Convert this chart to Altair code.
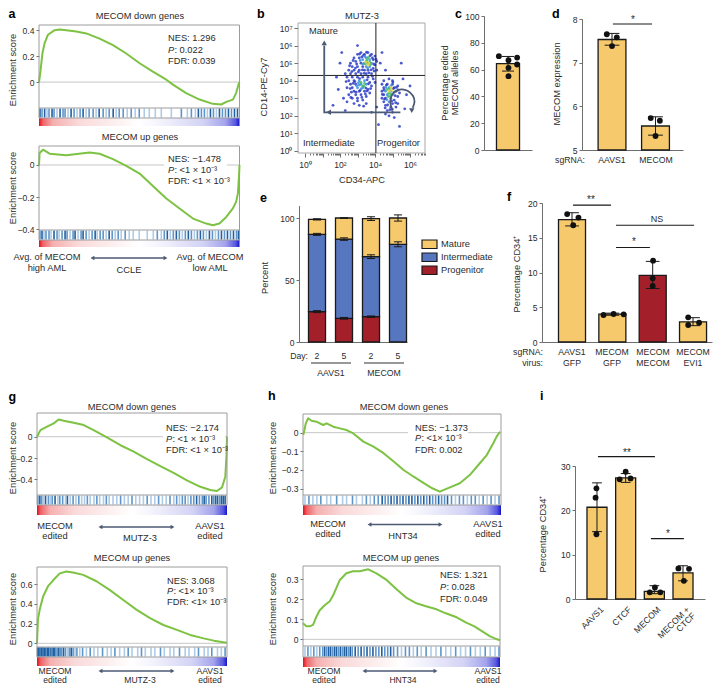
import math
import altair as alt
import pandas as pd

# ============================ DATA ============================
a_dn_x = [0, 0.007, 0.017, 0.028, 0.045, 0.078, 0.103, 0.136, 0.186, 0.236, 0.302, 0.369, 0.435, 0.502, 0.568, 0.635, 0.668, 0.734, 0.801, 0.867, 0.909, 0.934, 0.967, 0.983, 0.997, 1.0]
a_dn_y = [0, 0.08, 0.22, 0.30, 0.365, 0.40, 0.405, 0.40, 0.39, 0.375, 0.335, 0.285, 0.22, 0.145, 0.08, 0.018, -0.02, -0.085, -0.135, -0.168, -0.173, -0.153, -0.135, -0.085, -0.01, 0.0]
a_up_x = [0, 0.003, 0.02, 0.053, 0.136, 0.2, 0.252, 0.302, 0.369, 0.435, 0.502, 0.568, 0.635, 0.701, 0.768, 0.834, 0.867, 0.9, 0.934, 0.967, 0.983, 0.992, 0.998, 1.0]
a_up_y = [0.0, 0.075, 0.095, 0.07, 0.06, 0.07, 0.077, 0.07, 0.036, -0.005, -0.053, -0.13, -0.208, -0.27, -0.333, -0.364, -0.375, -0.364, -0.323, -0.27, -0.229, -0.177, -0.06, 0.0]
g_dn_x = [0, 0.018, 0.053, 0.088, 0.114, 0.14, 0.193, 0.246, 0.298, 0.368, 0.439, 0.509, 0.579, 0.649, 0.719, 0.789, 0.86, 0.912, 0.947, 0.974, 0.991, 0.997, 1.0]
g_dn_y = [0, 0.062, 0.094, 0.125, 0.162, 0.15, 0.131, 0.109, 0.062, -0.006, -0.08, -0.14, -0.21, -0.275, -0.34, -0.41, -0.47, -0.5, -0.51, -0.475, -0.375, -0.19, 0.0]
g_up_x = [0, 0.005, 0.014, 0.032, 0.058, 0.085, 0.12, 0.155, 0.19, 0.243, 0.313, 0.384, 0.454, 0.525, 0.595, 0.665, 0.736, 0.806, 0.877, 0.93, 0.982, 1.0]
g_up_y = [0, 0.24, 0.34, 0.475, 0.58, 0.64, 0.71, 0.73, 0.72, 0.695, 0.63, 0.54, 0.44, 0.34, 0.255, 0.186, 0.136, 0.085, 0.05, 0.027, 0.01, 0.006]
h_dn_x = [0, 0.003, 0.014, 0.026, 0.043, 0.068, 0.102, 0.119, 0.153, 0.186, 0.22, 0.254, 0.305, 0.356, 0.407, 0.458, 0.508, 0.559, 0.61, 0.653, 0.691, 0.742, 0.792, 0.842, 0.893, 0.928, 0.961, 0.978, 0.995]
h_dn_y = [0, -0.007, 0.05, 0.077, 0.064, 0.059, 0.041, 0.05, 0.032, 0.023, 0.014, -0.004, -0.048, -0.075, -0.11, -0.155, -0.2, -0.236, -0.27, -0.298, -0.316, -0.293, -0.271, -0.227, -0.164, -0.12, -0.057, -0.021, 0.005]
h_up_x = [0, 0.017, 0.034, 0.051, 0.068, 0.085, 0.11, 0.136, 0.153, 0.186, 0.22, 0.254, 0.288, 0.331, 0.373, 0.424, 0.475, 0.526, 0.576, 0.624, 0.678, 0.725, 0.78, 0.826, 0.87, 0.91, 0.95, 0.985, 1.0]
h_up_y = [0.08, 0.065, 0.065, 0.072, 0.113, 0.145, 0.17, 0.19, 0.22, 0.295, 0.33, 0.34, 0.34, 0.35, 0.33, 0.297, 0.25, 0.207, 0.18, 0.165, 0.15, 0.13, 0.11, 0.085, 0.065, 0.04, 0.015, 0.0, -0.005]

bc_a_dn_pos = [0.5, 1.5, 2.8, 4, 5, 6.5, 7.5, 9, 10.5, 12, 13, 14.5, 16, 17.5, 19, 20.5, 22, 23.5, 25, 27, 28.5, 30, 32, 33.5, 35, 37, 38.5, 40, 42, 44, 46, 48, 50, 52.5, 55, 58, 61, 66, 71, 74, 76, 78, 79.5, 81, 82.5, 84, 85.5, 87, 88.5, 90, 91.5, 93, 94.5, 96, 97.5, 99]
bc_a_dn_shade = [3, 2, 3, 1, 2, 3, 2, 1, 3, 2, 2, 1, 3, 2, 1, 2, 3, 1, 2, 2, 1, 3, 2, 1, 2, 3, 1, 2, 2, 1, 2, 1, 2, 1, 1, 1, 1, 1, 2, 1, 2, 1, 3, 2, 2, 1, 3, 2, 1, 3, 2, 2, 3, 2, 3, 3]
bc_a_up_pos = [0.5, 1.5, 2.5, 3.5, 5, 6, 7.5, 9, 10, 11.5, 13, 14, 15.5, 17, 18, 19.5, 21, 22, 23.5, 25, 26.5, 28, 29, 30.5, 32, 33.5, 35, 36.5, 38, 39.5, 41, 43, 45, 47, 50, 54, 57, 59, 61, 62.5, 64, 65.5, 67, 68.5, 70, 71.5, 73, 74.5, 76, 77.5, 79, 80.5, 82, 83.5, 85, 86.5, 88, 89.5, 91, 92.5, 94, 95.5, 97, 98.5, 99.5]
bc_a_up_shade = [2, 3, 1, 2, 2, 1, 3, 2, 1, 2, 3, 2, 1, 2, 3, 1, 2, 3, 2, 1, 2, 3, 1, 2, 2, 1, 3, 2, 1, 2, 1, 2, 1, 1, 1, 1, 1, 2, 1, 2, 3, 1, 2, 3, 2, 1, 2, 3, 2, 1, 2, 3, 2, 1, 3, 2, 1, 2, 3, 2, 3, 2, 3, 2, 3]
bc_g_dn_pos = [0.5, 1.5, 2.5, 3.5, 4.5, 6, 7, 8, 9.5, 11, 12, 13.5, 15, 16, 17.5, 19, 20.5, 22, 23.5, 25, 26.5, 28, 30, 31.5, 33, 35, 36.5, 38, 40, 42, 44, 46, 48, 50, 52, 54, 56, 58, 60, 62, 64, 66, 68, 70, 72, 73.5, 75, 76.5, 78, 79.5, 81, 82.5, 84, 85.5, 87, 88, 89, 90.5, 92, 93, 94, 95, 96, 97, 98, 99]
bc_g_dn_shade = [2, 3, 2, 1, 3, 2, 1, 2, 3, 1, 2, 2, 1, 3, 1, 2, 1, 2, 1, 1, 2, 1, 1, 2, 1, 1, 2, 1, 1, 1, 2, 1, 1, 2, 1, 1, 1, 2, 1, 1, 2, 1, 1, 2, 1, 2, 1, 2, 2, 1, 2, 2, 3, 2, 2, 3, 2, 2, 3, 2, 3, 3, 2, 3, 3, 3]
bc_g_up_pos = [0.3, 0.8, 1.3, 1.8, 2.3, 2.8, 3.3, 3.8, 4.3, 5, 5.6, 6.2, 6.8, 7.4, 8, 8.7, 9.4, 10, 10.8, 11.5, 12.3, 13, 14, 15, 16, 17, 18, 19, 20, 21, 22.5, 24, 26, 28, 30, 32, 34.5, 37, 39, 41, 43.5, 46, 48, 50, 53, 55, 57, 60, 62, 65, 67, 70, 72, 75, 78, 80, 83, 85, 88, 90, 92, 95, 97, 99]
bc_g_up_shade = [3, 3, 3, 2, 3, 3, 2, 3, 3, 2, 3, 3, 2, 3, 2, 3, 3, 2, 2, 3, 2, 2, 3, 2, 1, 2, 3, 2, 1, 2, 1, 2, 1, 2, 1, 1, 2, 1, 1, 2, 1, 1, 2, 1, 1, 2, 1, 1, 1, 2, 1, 1, 1, 2, 1, 1, 1, 2, 1, 1, 2, 1, 1, 2]
bc_h_dn_pos = [1, 3, 5, 7, 9, 12, 14, 17, 20, 22, 25, 27, 30, 32, 34, 36, 38, 40, 41.5, 43, 44.5, 46, 47.5, 49, 50.5, 52, 53.5, 55, 56.5, 58, 59.5, 61, 62.5, 64, 65.5, 67, 68.5, 70, 71.5, 73, 75, 77, 79, 81, 83, 85, 87, 89, 91, 93, 95, 97, 99]
bc_h_dn_shade = [1, 2, 1, 1, 2, 1, 1, 2, 1, 1, 2, 1, 1, 2, 1, 2, 2, 3, 2, 2, 3, 2, 3, 2, 3, 2, 3, 3, 2, 3, 2, 3, 2, 3, 2, 2, 3, 2, 2, 3, 2, 1, 2, 2, 1, 2, 2, 1, 2, 1, 2, 1, 2]
bc_h_up_pos = [1, 2.5, 4, 5.5, 7, 8.5, 10, 11, 12, 13, 14, 15, 16, 17, 18, 19, 20, 21, 22, 23, 24, 25, 26.5, 28, 29.5, 31, 32.5, 34, 35.5, 37, 38.5, 40, 41.5, 43, 44.5, 46, 48, 50, 52, 54, 56, 58, 60, 62.5, 65, 67.5, 70, 72.5, 75, 77.5, 80, 82.5, 85, 87.5, 90, 92.5, 95, 97.5, 99.5]
bc_h_up_shade = [1, 2, 1, 2, 1, 2, 2, 3, 2, 3, 3, 2, 3, 3, 2, 3, 2, 3, 3, 2, 3, 2, 3, 2, 3, 2, 3, 2, 3, 2, 2, 3, 2, 2, 3, 2, 2, 1, 2, 2, 1, 2, 1, 2, 1, 1, 2, 1, 1, 2, 1, 1, 2, 1, 1, 2, 1, 1, 2]

flow_upper = [(3.0, 5.5, 0), (3.2, 5.6, 0), (3.4, 5.5, 0), (3.6, 5.6, 0), (3.8, 5.5, 0), (4.0, 5.4, 0), (2.8, 5.3, 0), (3.1, 5.3, 0), (3.3, 5.2, 1), (3.5, 5.3, 1), (3.7, 5.2, 1), (3.9, 5.2, 0), (4.1, 5.1, 0), (2.6, 5.0, 0), (2.9, 5.1, 0), (3.2, 5.0, 0), (3.4, 5.0, 1), (3.6, 5.0, 1), (3.8, 5.0, 1), (4.0, 4.9, 0), (2.7, 4.8, 0), (3.0, 4.8, 0), (3.3, 4.8, 0), (3.5, 4.8, 1), (3.7, 4.8, 1), (3.9, 4.7, 0), (2.5, 4.6, 0), (2.8, 4.6, 0), (3.1, 4.6, 0), (3.4, 4.6, 0), (3.6, 4.6, 0), (4.1, 4.6, 0), (2.3, 4.4, 0), (2.6, 4.4, 0), (2.9, 4.4, 0), (3.2, 4.4, 0), (3.5, 4.4, 0), (3.8, 4.4, 0),
              (3.5, 5.1, 2), (3.6, 4.9, 3), (3.7, 5.05, 2), (3.45, 4.95, 2), (3.55, 5.2, 2), (3.65, 5.0, 3),
              (2.95, 4.95, 0), (3.25, 5.35, 0), (3.85, 5.3, 0), (3.05, 4.5, 0), (3.65, 4.45, 0), (3.35, 5.45, 0), (2.75, 5.15, 0), (3.95, 4.55, 0),
              (3.15, 5.15, 1), (3.42, 5.38, 1), (3.72, 5.42, 0), (3.58, 4.72, 1), (3.28, 4.62, 0), (2.88, 4.72, 0), (3.92, 4.95, 0), (3.12, 5.52, 0), (3.52, 5.62, 0), (3.78, 4.62, 0), (2.68, 4.52, 0), (3.38, 4.42, 0), (4.05, 5.22, 0), (2.55, 4.85, 0), (3.62, 5.32, 2), (3.48, 5.05, 3), (3.75, 4.92, 2), (3.3, 4.95, 1)]
flow_lower = [(2.4, 4.2, 0), (2.7, 4.2, 0), (3.0, 4.2, 0), (3.3, 4.2, 0), (3.6, 4.2, 0), (3.9, 4.1, 0), (2.5, 4.0, 0), (2.8, 4.0, 0), (3.1, 4.0, 1), (3.4, 4.0, 1), (3.7, 3.9, 0), (4.0, 3.9, 0), (2.6, 3.8, 0), (2.9, 3.8, 0), (3.2, 3.8, 1), (3.5, 3.8, 1), (3.8, 3.7, 0), (2.4, 3.6, 0), (2.7, 3.6, 0), (3.0, 3.6, 1), (3.3, 3.6, 1), (3.6, 3.5, 0), (2.8, 3.4, 0), (3.1, 3.4, 0), (3.4, 3.4, 0), (3.7, 3.3, 0), (2.5, 3.2, 0), (2.9, 3.2, 0), (3.2, 3.2, 0), (3.5, 3.1, 0), (2.7, 3.0, 0), (3.0, 3.0, 0), (3.3, 2.9, 0), (2.8, 2.7, 0), (3.1, 2.6, 0), (3.5, 2.7, 0), (2.4, 2.8, 0),
              (3.2, 3.9, 2), (3.3, 3.7, 2), (3.1, 3.75, 1), (3.4, 3.85, 2),
              (2.85, 3.95, 0), (3.55, 4.05, 0), (3.15, 3.45, 0), (2.65, 3.35, 0), (3.45, 3.25, 0),
              (2.95, 3.72, 1), (3.22, 3.55, 1), (3.38, 3.68, 2), (3.05, 3.88, 1), (2.75, 3.85, 0), (3.48, 3.58, 0), (3.62, 3.82, 0), (2.58, 3.55, 0), (2.92, 3.35, 0), (3.25, 3.05, 0), (3.55, 3.42, 0), (2.62, 3.05, 0), (3.0, 2.85, 0), (3.35, 2.55, 0), (3.75, 3.55, 0), (2.35, 3.95, 0), (3.85, 4.25, 0), (3.12, 4.12, 0)]
flow_prog = [(4.5, 4.0, 0), (4.8, 4.1, 0), (5.0, 4.0, 0), (4.4, 3.8, 0), (4.7, 3.8, 0), (5.0, 3.8, 0), (5.3, 3.7, 0), (4.5, 3.6, 0), (4.8, 3.6, 1), (5.1, 3.6, 0), (4.4, 3.4, 0), (4.6, 3.4, 1), (4.9, 3.4, 1), (5.2, 3.4, 0), (5.4, 3.3, 0), (4.5, 3.2, 0), (4.7, 3.2, 1), (5.0, 3.2, 1), (5.3, 3.1, 0), (4.4, 3.0, 0), (4.6, 3.0, 0), (4.9, 3.0, 1), (5.1, 2.9, 0), (4.5, 2.8, 0), (4.8, 2.8, 1), (5.0, 2.7, 0), (5.3, 2.7, 0), (4.6, 2.6, 0), (4.9, 2.5, 0), (5.2, 2.5, 0), (4.7, 2.3, 0), (5.0, 2.2, 0), (4.8, 2.0, 0), (5.1, 1.9, 0), (4.6, 2.1, 0),
             (4.8, 3.4, 3), (4.9, 3.25, 2), (4.85, 3.55, 2), (4.75, 3.1, 2), (4.95, 3.45, 3), (4.7, 3.5, 2),
             (4.65, 3.75, 0), (5.15, 3.15, 0), (4.55, 2.95, 0), (4.95, 2.85, 0), (5.05, 3.55, 0), (4.85, 2.35, 0),
             (4.62, 3.62, 1), (4.92, 3.72, 1), (4.78, 3.28, 2), (5.08, 3.35, 1), (4.68, 2.92, 1), (4.88, 3.12, 2), (5.22, 3.62, 0), (4.52, 3.48, 0), (5.18, 2.75, 0), (4.72, 2.62, 0), (4.98, 2.38, 0), (4.42, 3.22, 0), (5.32, 3.48, 0), (4.58, 2.45, 0), (5.02, 3.92, 0), (4.92, 3.6, 3)]
flow_sparse = [(1.8, 4.2, 0), (2.0, 5.0, 0), (1.9, 3.5, 0), (2.2, 3.0, 0), (2.1, 5.6, 0), (4.3, 5.0, 0), (4.6, 4.6, 0), (5.6, 4.1, 0), (5.8, 3.2, 0), (4.2, 1.5, 0), (5.4, 1.4, 0), (3.8, 2.2, 0), (2.3, 2.3, 0), (5.7, 2.4, 0), (4.1, 2.5, 0), (1.6, 2.6, 0), (3.0, 6.0, 0), (4.4, 5.6, 0), (5.5, 5.0, 0), (6.0, 3.7, 0)]
gate_x = 4.05
gate_y = 4.3
arc_x = [5.0, 4.85, 4.9, 5.1, 5.5, 5.9, 6.2, 6.3, 6.15]
arc_y = [2.3, 2.7, 3.1, 3.4, 3.55, 3.45, 3.15, 2.8, 2.45]

c_val = [64.5]
c_lo = [58.9]
c_hi = [69.8]
c_pts = [70.0, 67.0, 69.0, 63.8, 61.3, 55.1]
c_jit = [-0.38, 0.02, 0.38, 0.38, 0.02, 0.02]
c_ticks = [0, 20, 40, 60, 80, 100]

d_cats = ["AAVS1", "MECOM"]
d_val = [7.53, 5.55]
d_lo = [7.40, 5.34]
d_hi = [7.67, 5.76]
d_pts = [[7.65, 7.58, 7.38], [5.73, 5.67, 5.32]]
d_jit = [[-0.12, 0.11, 0.0], [-0.11, 0.1, 0.0]]

e_group = ["AAVS1", "MECOM"]
e_day = ["2", "5", "2", "5"]
e_prog = [24.5, 19.1, 20.4, 0.0]
e_inter = [62.3, 63.9, 48.4, 78.8]
e_mat = [12.1, 17.0, 30.7, 21.2]
e_err_prog = [0.8, 0.7, 0.6, 0.0]
e_err_inter = [0.8, 1.0, 1.5, 2.0]
e_err_mat = [0.5, 0.3, 1.5, 2.5]

f_sg = ["AAVS1", "MECOM", "MECOM", "MECOM"]
f_virus = ["GFP", "GFP", "MECOM", "EVI1"]
f_val = [17.6, 4.0, 9.6, 2.9]
f_lo = [16.7, 3.85, 7.7, 2.35]
f_hi = [18.6, 4.15, 11.6, 3.5]
f_pts = [[18.4, 17.9, 16.8], [3.88, 4.03, 3.98], [11.7, 9.16, 8.06], [3.55, 2.45, 2.78]]
f_jit = [[-0.12, 0.16, 0.03], [-0.22, 0.03, 0.28], [0.01, 0.0, 0.0], [-0.12, -0.12, 0.15]]

i_cats = ["AAVS1", "CTCF", "MECOM", "MECOM +\nCTCF"]
i_val = [20.7, 27.3, 1.7, 5.9]
i_lo = [15.2, 26.3, 1.2, 4.1]
i_hi = [26.2, 28.3, 3.0, 7.5]
i_pts = [[24.97, 22.85, 14.6], [27.0, 28.7, 27.2], [1.5, 2.6, 1.5], [6.9, 6.8, 4.1]]
i_jit = [[-0.02, -0.05, -0.02], [-0.21, 0.0, 0.17], [-0.16, 0.02, 0.21], [-0.16, 0.21, 0.03]]

# ============================ STYLE / LAYOUT ============================
W, H, M = 705, 675, 8
FONT = "Liberation Sans"
INK = "#2b2b2b"
AXC = "#6e6e6e"
YEL, RED, BLU = "#f5c96c", "#a3202b", "#5676bf"
GRN, ARW = "#7dc242", "#4c5a74"
SHADES = ["#aecbe7", "#5f95c9", "#215f9f"]
DENS = ["#2b3cc4", "#3b8fdc", "#3fb96a", "#e4d53a"]
FS = 9.3

layers = []
ann = []
late = []


def add(ch):
    layers.append(ch)


def sx(p0, p1, d0, d1):
    return alt.Scale(domain=[d0, d1], range=[p0 - M, p1 - M], nice=False, zero=False)


def sy(pb, pt, d0, d1):
    return alt.Scale(domain=[d0, d1], range=[pb - M, pt - M], nice=False, zero=False)


IX = sx(M, M + W, M, M + W)
IY = sy(M, M + H, M, M + H)


def X(f, s, axis=None):
    return alt.X(f"{f}:Q", scale=s, axis=axis)


def Y(f, s, axis=None):
    return alt.Y(f"{f}:Q", scale=s, axis=axis)


def left_axis(px, values, domain=True, **kw):
    d = dict(orient="left", offset=-(px - M), values=values, title=None, grid=False, tickSize=3,
             labelPadding=2, labelFontSize=8.6, domain=domain, labelFlush=False, labelOverlap=False)
    d.update(kw)
    return alt.Axis(**d)


def bottom_axis(py, **kw):
    d = dict(orient="bottom", offset=(py - M) - H, title=None, grid=False, labels=False, ticks=False,
             domain=True, labelFlush=False, labelOverlap=False)
    d.update(kw)
    return alt.Axis(**d)


def T(x, y, s, size=FS, align="center", weight="normal", style="normal", angle=0, color=INK, baseline="middle"):
    ann.append(dict(x=x, y=y, t=s, size=size, align=align, weight=weight, style=style,
                    angle=angle, color=color, baseline=baseline))


def seg(x1, y1, x2, y2, color="#333333", width=1.2):
    df = pd.DataFrame({"x": [x1], "y": [y1], "xe": [x2], "ye": [y2]})
    add(alt.Chart(df).mark_rule(color=color, strokeWidth=width).encode(
        x=X("x", IX), y=Y("y", IY), x2=alt.X2("xe"), y2=alt.Y2("ye")))


def wbox(x1, y1, x2, y2):
    df = pd.DataFrame({"x": [x1], "y": [y1], "xe": [x2], "ye": [y2]})
    add(alt.Chart(df).mark_rect(color="white").encode(
        x=X("x", IX), x2=alt.X2("xe"), y=Y("y", IY), y2=alt.Y2("ye")))


def darrow(x1, x2, y):
    seg(x1 + 3, y, x2 - 3, y, ARW, 1.4)
    hd = pd.DataFrame({"x": [x1 + 2.5, x2 - 2.5], "y": [y, y], "s": ["triangle-left", "triangle-right"]})
    add(alt.Chart(hd).mark_point(filled=True, size=20, color=ARW, opacity=1).encode(
        x=X("x", IX), y=Y("y", IY), shape=alt.Shape("s:N", scale=None)))


def nes(x, ys, s_nes, s_p, s_fdr):
    T(x, ys[0], s_nes, align="left")
    T(x, ys[1], "P", align="left", style="italic")
    T(x + 6.4, ys[1], s_p, align="left")
    T(x, ys[2], s_fdr, align="left")


GRAD = alt.LinearGradient(
    gradient="linear", x1=0, x2=1, y1=0, y2=0,
    stops=[alt.GradientStop(offset=o, color=c) for o, c in [
        (0.0, "#e3101b"), (0.02, "#ee6468"), (0.07, "#f5b0b0"), (0.2, "#fadada"), (0.4, "#fdf2f2"),
        (0.5, "#ffffff"), (0.62, "#f1f1fc"), (0.82, "#d2d2f5"), (0.93, "#a3a3ec"), (0.98, "#5757df"), (1.0, "#1414cc")]])


def gsea(cx, cy, pos, shade, x0, x1, ytop, ycb, ybc, ygb, d0, d1, ticks, box=None):
    xs = sx(x0, x1, 0, 1)
    ys = sy(ycb, ytop, d0, d1)
    bs = sy(ybc, ycb, 0, 1)
    gs = sy(ygb, ybc, 0, 1)
    fs = sy(ybc, ytop, 0, 1)
    unit = pd.DataFrame({"a": [0.0], "b": [1.0], "z": [0.0]})
    add(alt.Chart(unit).mark_rect(fill=GRAD).encode(x=X("a", xs), x2=alt.X2("b"), y=Y("a", gs), y2=alt.Y2("b")))
    bc = pd.DataFrame({"x": [p / 100 for p, _ in zip(pos, shade)], "s": [s for _, s in zip(pos, shade)]})
    bc["lo"] = 0.04
    bc["hi"] = 0.96
    add(alt.Chart(bc).mark_rule(strokeWidth=1.6).encode(
        x=X("x", xs), y=Y("lo", bs), y2=alt.Y2("hi"),
        color=alt.Color("s:O", scale=alt.Scale(domain=[1, 2, 3], range=SHADES), legend=None)))
    add(alt.Chart(unit).mark_rule(color="#c6c6c6", strokeWidth=1).encode(
        x=X("a", xs), x2=alt.X2("b"), y=Y("z", ys, left_axis(x0, ticks, domain=False, format="~g"))))
    if box:
        wbox(*box)
    cur = pd.DataFrame({"x": cx, "y": cy})
    add(alt.Chart(cur).mark_line(color=GRN, strokeWidth=2, strokeJoin="round").encode(x=X("x", xs), y=Y("y", ys)))
    add(alt.Chart(unit).mark_rect(fill="white", fillOpacity=0, stroke="#9c9c9c", strokeWidth=1).encode(
        x=X("a", xs), x2=alt.X2("b"), y=Y("a", fs), y2=alt.Y2("b")))
    add(alt.Chart(unit).mark_rule(color="#9c9c9c", strokeWidth=1).encode(x=X("a", xs), x2=alt.X2("b"), y=Y("b", bs)))


def bar_panel(xs, ys, base, vals, fills, hw, lo, hi, cap, ptx, pty, ax_x, yvals, ax_y):
    n = len(vals)
    cen = [k + 1 for k in range(n)]
    ax = pd.DataFrame({"x": [cen[0]], "y": [base]})
    add(alt.Chart(ax).mark_point(opacity=0, size=1).encode(
        x=X("x", xs, bottom_axis(ax_y)), y=Y("y", ys, left_axis(ax_x, yvals))))
    df = pd.DataFrame({"l": [c - hw for c in cen], "r": [c + hw for c in cen], "v": vals,
                       "z": [base] * n, "f": fills})
    add(alt.Chart(df).mark_bar(stroke="#1a1a1a", strokeWidth=1.3).encode(
        x=X("l", xs), x2=alt.X2("r"), y=Y("v", ys), y2=alt.Y2("z"),
        color=alt.Color("f:N", scale=None)))
    e = pd.DataFrame({"c": cen, "lo": lo, "hi": hi, "cl": [c - cap for c in cen], "cr": [c + cap for c in cen]})
    add(alt.Chart(e).mark_rule(color="#1a1a1a", strokeWidth=1).encode(x=X("c", xs), y=Y("lo", ys), y2=alt.Y2("hi")))
    add(alt.Chart(e).mark_rule(color="#1a1a1a", strokeWidth=1).encode(x=X("cl", xs), x2=alt.X2("cr"), y=Y("lo", ys)))
    add(alt.Chart(e).mark_rule(color="#1a1a1a", strokeWidth=1).encode(x=X("cl", xs), x2=alt.X2("cr"), y=Y("hi", ys)))
    p = pd.DataFrame({"x": ptx, "y": pty})
    add(alt.Chart(p).mark_circle(size=34, color="#111111", opacity=1).encode(x=X("x", xs), y=Y("y", ys)))


def sig(xs, ys, xa, xb, yv):
    df = pd.DataFrame({"a": [xa], "b": [xb], "y": [yv]})
    add(alt.Chart(df).mark_rule(color="#1a1a1a", strokeWidth=1.2).encode(x=X("a", xs), x2=alt.X2("b"), y=Y("y", ys)))


LET = dict(size=12.5, align="left", weight="bold", color="#000000", baseline="top")

# ============================ PANEL a ============================
T(8.5, 8, "a", **LET)
T(140, 16, "MECOM down genes")
gsea(a_dn_x, a_dn_y, bc_a_dn_pos, bc_a_dn_shade, 39, 239.5, 25, 108, 118, 126, -0.2, 0.44, [0, 0.2, 0.4])
T(13, 70, "Enrichment score", angle=270)
nes(168, [38, 50, 61], "NES: 1.296", ": 0.022", "FDR: 0.039")
T(140, 137, "MECOM up genes")
gsea(a_up_x, a_up_y, bc_a_up_pos, bc_a_up_shade, 39, 239.5, 146, 230, 240, 247, -0.404, 0.118, [-0.4, -0.2, 0],
     box=(164, 152, 227, 188))
T(13, 188, "Enrichment score", angle=270)
nes(168, [159, 170, 181], "NES: \u22121.478", ": <1 \u00d7 10\u207b\u00b3", "FDR: <1 \u00d7 10\u207b\u00b3")
T(47, 257, "Avg. of MECOM")
T(47, 268, "high AML")
T(210, 257, "Avg. of MECOM")
T(210, 268, "low AML")
T(129, 270, "CCLE")
darrow(90, 168, 258)

# ============================ PANEL b ============================
T(257, 8, "b", **LET)
T(362, 16, "MUTZ-3")
fx = sx(298, 425, -0.4, 6.857)
fy = sy(153, 23, -0.114, 7.285)
SUP = "['\u2070','\u00b9','\u00b2','\u00b3','\u2074','\u2075','\u2076','\u2077']"
frame = pd.DataFrame({"x0": [-0.4], "x1": [6.857], "y0": [-0.114], "y1": [7.285]})
fl = pd.DataFrame([dict(x=a, y=b, d=c) for a, b, c in flow_sparse + flow_lower + flow_upper + flow_prog])
fl = fl.sort_values("d", kind="stable")
add(alt.Chart(fl).mark_circle(size=8, opacity=0.85).encode(
    x=X("x", fx), y=Y("y", fy),
    color=alt.Color("d:O", scale=alt.Scale(domain=[0, 1, 2, 3], range=DENS), legend=None)))
minor = [n + math.log10(k) for n in range(0, 7) for k in range(2, 10) if n + math.log10(k) < 6.85]
add(alt.Chart(frame).mark_rect(fill="white", fillOpacity=0, stroke="#a8a8a8", strokeWidth=1).encode(
    x=X("x0", fx, bottom_axis(153, labels=True, ticks=True, values=list(range(0, 7)), tickSize=4,
                               labelExpr="datum.value % 2 == 0 ? '10' + " + SUP + "[datum.value] : ''",
                               labelFontSize=8.6, labelPadding=3, domain=False)),
    x2=alt.X2("x1"),
    y=Y("y0", fy, left_axis(298, list(range(0, 8)), domain=False, tickSize=4,
                            labelExpr="'10' + " + SUP + "[datum.value]")),
    y2=alt.Y2("y1")))
gl = pd.DataFrame({"gx": [gate_x], "gy": [gate_y], "x0": [-0.4], "x1": [6.857], "y0": [-0.114], "y1": [7.285]})
add(alt.Chart(gl).mark_rule(color="#222222", strokeWidth=1).encode(
    x=X("gx", fx), y=Y("y0", fy), y2=alt.Y2("y1")))
add(alt.Chart(gl).mark_rule(color="#222222", strokeWidth=1).encode(
    x=X("x0", fx, bottom_axis(153, ticks=True, values=minor, tickSize=2, domain=False)), x2=alt.X2("x1"),
    y=Y("gy", fy)))
arm = pd.DataFrame({"x": [5.45, 1.1, 1.1], "y": [2.2, 2.2, 6.0], "i": [0, 1, 2]})
add(alt.Chart(arm).mark_line(color=ARW, strokeWidth=1.8).encode(x=X("x", fx), y=Y("y", fy), order="i:Q"))
arc = pd.DataFrame({"x": arc_x, "y": arc_y, "i": list(range(len(arc_x)))})
add(alt.Chart(arc).mark_line(color=ARW, strokeWidth=1.8, interpolate="basis").encode(
    x=X("x", fx), y=Y("y", fy), order="i:Q"))
heads = pd.DataFrame({"x": [1.1, 1.35, 6.1], "y": [6.15, 2.2, 2.3],
                      "s": ["triangle-up", "triangle-left", "triangle-down"]})
add(alt.Chart(heads).mark_point(filled=True, size=30, color=ARW, opacity=1).encode(
    x=X("x", fx), y=Y("y", fy), shape=alt.Shape("s:N", scale=None)))
T(309, 31, "Mature", align="left")
T(303, 143, "Intermediate", align="left")
T(377, 143, "Progenitor", align="left")
T(264, 87, "CD14-PE-Cy7", angle=270)
T(362, 180, "CD34-APC")

# ============================ PANEL c ============================
T(455, 8, "c", **LET)
cxs = sx(484, 532, 0, 2)
cys = sy(150, 16, 0, 100)
bar_panel(cxs, cys, 0, c_val, [YEL], 0.48, c_lo, c_hi, 0.25,
          [1 + j for j in c_jit], c_pts, 484, c_ticks, 150)
T(445, 83, "Percentage edited", angle=270)
T(455, 83, "MECOM alleles", angle=270)

# ============================ PANEL d ============================
T(552, 8, "d", **LET)
dxs = sx(582, 683, 0.31, 2.632)
dys = sy(150, 19, 5, 8)
bar_panel(dxs, dys, 5, d_val, [YEL, YEL], 0.32, d_lo, d_hi, 0.17,
          [k + 1 + j for k in range(2) for j in d_jit[k]], [v for row in d_pts for v in row],
          582, [5, 6, 7, 8], 150)
sig(dxs, dys, 1.02, 1.92, 7.885)
T(633, 20, "*", size=10)
T(557, 84, "MECOM expression", angle=270)
T(585, 160, "sgRNA:", align="right", size=8.7)
T(612, 160, d_cats[0], size=8.7)
T(656, 160, d_cats[1], size=8.7)

# ============================ PANEL e ============================
T(260, 192, "e", **LET)
exs = sx(299, 407, 0.333, 4.333)
eys = sy(342, 205.6, 0, 110)
rows, errs = [], []
for k in range(4):
    base = 0.0
    for name, hgt, err in (("Progenitor", e_prog[k], e_err_prog[k]), ("Intermediate", e_inter[k], e_err_inter[k]),
                           ("Mature", e_mat[k], e_err_mat[k])):
        if hgt > 0:
            rows.append(dict(l=k + 1 - 0.315, r=k + 1 + 0.315, lo=base, hi=base + hgt, seg=name))
            errs.append(dict(c=k + 1, cl=k + 1 - 0.15, cr=k + 1 + 0.15, a=base + hgt - err, b=base + hgt + err))
        base += hgt
SEGS = alt.Scale(domain=["Mature", "Intermediate", "Progenitor"], range=[YEL, BLU, RED])
add(alt.Chart(pd.DataFrame(rows)).mark_bar(stroke="#1a1a1a", strokeWidth=1.3).encode(
    x=X("l", exs, bottom_axis(342)), x2=alt.X2("r"),
    y=Y("lo", eys, left_axis(299, [0, 50, 100])), y2=alt.Y2("hi"),
    color=alt.Color("seg:N", scale=SEGS, legend=None)))
edf = pd.DataFrame(errs)
add(alt.Chart(edf).mark_rule(color="#1a1a1a", strokeWidth=1).encode(x=X("c", exs), y=Y("a", eys), y2=alt.Y2("b")))
add(alt.Chart(edf).mark_rule(color="#1a1a1a", strokeWidth=1).encode(x=X("cl", exs), x2=alt.X2("cr"), y=Y("a", eys)))
add(alt.Chart(edf).mark_rule(color="#1a1a1a", strokeWidth=1).encode(x=X("cl", exs), x2=alt.X2("cr"), y=Y("b", eys)))
T(265, 278, "Percent", angle=270)
T(308, 356, "Day:", align="right", size=8.7)
for k, dname in enumerate(e_day):
    T([317, 344, 371, 398][k], 356, dname, size=8.7)
seg(311, 363, 351, 363, "#333333", 1.2)
seg(364, 363, 404, 363, "#333333", 1.2)
T(331, 373, e_group[0], size=8.7)
T(384, 373, e_group[1], size=8.7)
leg = pd.DataFrame({"x": [422, 422, 422], "xe": [437, 437, 437], "y": [240, 253, 266], "ye": [248.5, 261.5, 274.5],
                    "seg": ["Mature", "Intermediate", "Progenitor"]})
add(alt.Chart(leg).mark_rect(stroke="#1a1a1a", strokeWidth=1.2).encode(
    x=X("x", IX), x2=alt.X2("xe"), y=Y("y", IY), y2=alt.Y2("ye"),
    color=alt.Color("seg:N", scale=SEGS, legend=None)))
T(441, 244, "Mature", align="left")
T(441, 257, "Intermediate", align="left")
T(441, 270, "Progenitor", align="left")

# ============================ PANEL f ============================
T(507, 191, "f", **LET)
fxs = sx(542, 712, 0.256, 4.47)
fys = sy(342, 203, 0, 20)
f_fill = [RED if v == "MECOM" else YEL for v in f_virus]
bar_panel(fxs, fys, 0, f_val, f_fill, 0.335, f_lo, f_hi, 0.17,
          [k + 1 + j for k in range(4) for j in f_jit[k]], [v for row in f_pts for v in row],
          542, [0, 5, 10, 15, 20], 342)
sig(fxs, fys, 1.025, 1.967, 19.7)
sig(fxs, fys, 2.09, 4.025, 16.8)
sig(fxs, fys, 2.09, 2.93, 13.6)
T(591, 200, "**", size=10)
T(657, 219, "NS", size=9)
T(634, 242, "*", size=10)
T(517, 274, "Percentage CD34\u207a", angle=270)
T(543, 352, "sgRNA:", align="right", size=8.7)
T(543, 362.5, "virus:", align="right", size=8.7)
for k in range(4):
    T([572, 612, 653, 693][k], 352, f_sg[k], size=8.7)
    T([572, 612, 653, 693][k], 362.5, f_virus[k], size=8.7)

# ============================ PANEL g ============================
T(8.5, 391, "g", **LET)
T(132, 407, "MECOM down genes")
gsea(g_dn_x, g_dn_y, bc_g_dn_pos, bc_g_dn_shade, 37, 227, 413, 495, 505, 515, -0.547, 0.2225, [-0.4, -0.2, 0],
     box=(163, 421, 225, 457))
T(13, 458, "Enrichment score", angle=270)
nes(166, [428, 438.5, 450], "NES: \u22122.174", ": <1 \u00d7 10\u207b\u00b3", "FDR: <1 \u00d7 10\u207b\u00b3")
T(55, 526, "MECOM")
T(55, 536, "edited")
T(210, 526, "AAVS1")
T(210, 536, "edited")
T(140, 537.5, "MUTZ-3")
darrow(98, 175, 527)
T(132, 558, "MECOM up genes")
gsea(g_up_x, g_up_y, bc_g_up_pos, bc_g_up_shade, 37, 227, 567, 647, 657, 666, -0.0376, 0.775, [0, 0.2, 0.4, 0.6])
T(13, 609, "Enrichment score", angle=270)
nes(167, [581, 591, 601.5], "NES: 3.068", ": <1\u00d7 10\u207b\u00b3", "FDR: <1\u00d7 10\u207b\u00b3")
BL = dict(baseline="alphabetic", size=8.6)
T(55, 673.5, "MECOM", **BL)
T(55, 682.5, "edited", **BL)
T(210, 673.5, "AAVS1", **BL)
T(210, 682.5, "edited", **BL)
T(140, 682.5, "MUTZ-3", **BL)
darrow(98, 175, 671)

# ============================ PANEL h ============================
T(268, 390, "h", **LET)
T(404, 407, "MECOM down genes")
gsea(h_dn_x, h_dn_y, bc_h_dn_pos, bc_h_dn_shade, 303, 501, 414, 495, 505, 515, -0.334, 0.1, [-0.3, -0.2, -0.1, 0],
     box=(408, 420, 468, 457))
T(273, 458, "Enrichment score", angle=270)
nes(415, [428, 438, 449.5], "NES: \u22121.373", ": <1\u00d7 10\u207b\u00b3", "FDR: 0.002")
T(328, 523.5, "MECOM")
T(328, 534, "edited")
T(488, 524, "AAVS1")
T(488, 534, "edited")
T(403, 535.5, "HNT34")
darrow(367, 443, 524.5)
T(401, 558, "MECOM up genes")
gsea(h_up_x, h_up_y, bc_h_up_pos, bc_h_up_shade, 303, 500, 566, 646, 657, 667, -0.0335, 0.3665, [0, 0.1, 0.2, 0.3])
T(273, 609, "Enrichment score", angle=270)
nes(440, [575, 587, 599], "NES: 1.321", ": 0.028", "FDR: 0.049")
T(324, 673.5, "MECOM", **BL)
T(324, 682.5, "edited", **BL)
T(488, 673.5, "AAVS1", **BL)
T(488, 682.5, "edited", **BL)
T(403, 682.5, "HNT34", **BL)
darrow(362, 438, 671)

# ============================ PANEL i ============================
T(540, 390, "i", **LET)
ixs = sx(575, 705, 0.233, 4.767)
iys = sy(599, 466, 0, 30)
bar_panel(ixs, iys, 0, i_val, [YEL] * 4, 0.349, i_lo, i_hi, 0.17,
          [k + 1 + j for k in range(4) for j in i_jit[k]], [v for row in i_pts for v in row],
          575, [0, 10, 20, 30], 599)
sig(ixs, iys, 1.035, 3.02, 32.1)
sig(ixs, iys, 2.88, 4.03, 13.6)
T(627, 453, "**", size=10)
T(668, 534, "*", size=10)
T(543, 534, "Percentage CD34\u207a", angle=270)
T(602, 608, i_cats[0], align="right", angle=315, size=8.7)
T(630, 608, i_cats[1], align="right", angle=315, size=8.7)
T(659, 608, i_cats[2], align="right", angle=315, size=8.7)
T(688, 608, i_cats[3].split("\n")[0], align="right", angle=315, size=8.7)
T(694, 614, i_cats[3].split("\n")[1], align="right", angle=315, size=8.7)

# ============================ TEXT ============================
adf = pd.DataFrame(ann)
for (al, bl, wt, st), g in adf.groupby(["align", "baseline", "weight", "style"]):
    add(alt.Chart(g.reset_index(drop=True)).mark_text(
        align=al, baseline=bl, fontWeight=wt, fontStyle=st, font=FONT).encode(
        x=X("x", IX), y=Y("y", IY), text="t:N",
        size=alt.Size("size:Q", scale=None, legend=None),
        angle=alt.Angle("angle:Q", scale=None),
        color=alt.Color("color:N", scale=None)))

chart = alt.layer(*layers).resolve_scale(
    x="independent", y="independent", color="independent"
).properties(
    width=W, height=H, autosize=alt.AutoSizeParams(type="none"), padding=0
).configure_view(stroke=None).configure_axis(
    labelFont=FONT, labelColor=INK, domainColor=AXC, tickColor=AXC, grid=False
)
chart.save("out.html", embed_options={"renderer": "svg", "actions": False})
